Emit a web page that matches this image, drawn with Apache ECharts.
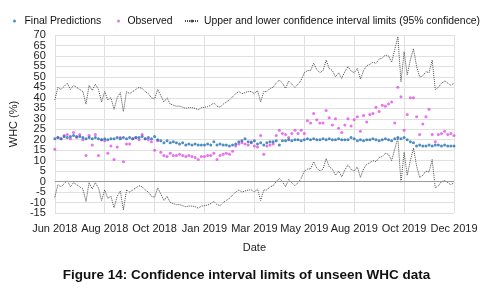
<!DOCTYPE html>
<html>
<head>
<meta charset="utf-8">
<script src="https://cdn.jsdelivr.net/npm/echarts@6/dist/echarts.min.js"></script>
<style>
  html, body { margin: 0; padding: 0; background: #fff; }
  #root { width: 493px; height: 292px; }
</style>
</head>
<body>
<div id="root"></div>
<script>
// tick labels along the date axis (16 samples between two labels)
const tickLabels = ['Jun 2018', 'Aug 2018', 'Oct 2018', 'Jan 2019', 'Mar 2019', 'May 2019', 'Aug 2019', 'Oct 2019', 'Dec 2019'];
const samplesPerTick = 16;
const yMin = -15, yMax = 70, yStep = 5;

const finalPredictions = [
  20.5, 21, 20.5, 21.5, 21, 21.5, 22, 21.5, 21.5, 21, 20.5, 21, 20.5, 21, 20.5, 20,
  20.5, 20, 20.5, 20.5, 21, 20.5, 21, 20.5, 21, 20.5, 21, 21, 21.5, 20.5, 21, 20.5,
  21.5, 20, 19.5, 18.5, 19.5, 18.5, 19, 18.5, 18, 18.5, 17.5, 18, 17.5, 18, 17.5, 17.5,
  17.5, 18, 17.5, 19, 17.5, 18, 17.5, 17.5, 17, 17.5, 18, 19, 19.5, 20.5, 19, 18.5,
  19.5, 18, 18.5, 17.5, 18.5, 19, 19, 19.5, 17.5, 19.5, 19.5, 20, 19.5, 20, 20, 19.5,
  20, 20.5, 20, 20.5, 20, 20, 20.5, 20, 20.5, 20, 20, 20.5, 20, 20, 20, 21,
  20.5, 19.5, 20, 19.5, 20, 20, 20.5, 20, 19.5, 20, 20.5, 20, 19.5, 20.5, 21, 20.5,
  21, 20, 19, 18.5, 17, 17.5, 17, 17, 17.5, 17, 17.5, 17.5, 17, 17.5, 17, 17,
  17
];

const observed = [
  15.5, 21, 20.5, 22, 22.5, 20.5, 23.5, 21, 22.5, 20, 12.5, 22, 17.5, 22.5, 12.5, 20,
  19.5, 13.5, 17, 10.5, 16.5, 21, 9.5, 18, 18, 20.5, 21, 20, 22.5, 20.5, 20, 19,
  15, 19.5, 14, 12.5, 12, 13.5, 12.5, 12.5, 13, 12.5, 12, 12.5, 12, 11.5, 10.5, 12,
  12, 12.5, 12.5, 13.5, 10.5, 12.5, 13, 13.5, 13, 14.5, 17, 18, 18.5, 18, 17.5, 19,
  17, 16.5, 22, 13, 17, 17.5, 18, 22, 24.5, 23, 22.5, 21, 23, 24.5, 23, 24.5,
  23, 29, 28, 32.5, 29.5, 28, 28, 34, 30.5, 27, 30, 25.5, 23.5, 27, 30, 26.5,
  29.5, 31, 24, 31.5, 28.5, 32, 32.5, 35.5, 33.5, 36.5, 36, 37, 38, 28, 45, 40.5,
  24.5, 32, 40, 40, 31, 22.5, 27.5, 31, 34.5, 22.5, 19, 22.5, 23, 24, 22.5, 23,
  22
];

const upperLimit = [
  39, 45, 44, 45.5, 47, 44, 46, 45, 44, 43, 37, 46, 43.5, 46.5, 44, 38,
  43, 39, 40, 34.5, 40, 42.5, 33.5, 43, 42, 43, 44, 45, 44.5, 43, 42, 40,
  39.5, 44, 41, 38, 40, 37, 36.5, 36, 36, 35.5, 35, 35.3, 35.3, 35, 34.3, 35.3,
  35.5, 35.8, 36.5, 37.5, 36, 35.5, 37, 38, 39, 40.5, 42, 43, 42, 42.5, 43, 43,
  42, 43.5, 38, 43, 43, 44.5, 45, 47, 48.5, 47, 44.5, 48, 46.5, 45, 46.5, 48.5,
  52, 53, 53, 56.5, 53.5, 52, 53, 58, 54, 53, 50, 52, 49.3, 52.5, 55, 52.8,
  52, 54, 49, 53, 55.3, 56, 57, 56.5, 58.5, 59, 60.5, 60, 57, 63, 69.2, 47.7,
  62, 51, 58, 63.5, 55, 50, 50.5, 52.5, 52, 58, 44, 45, 47, 48, 47, 46,
  47
];

const lowerLimit = [
  -7.5, -1.5, -2.5, -1, 0.5, -2.5, -0.5, -1.5, -2.5, -3.5, -9.5, -0.5, -3.5, -0.5, -3, -9,
  -4, -8, -7, -12.5, -7, -4.5, -13.5, -4, -5, -4, -3, -2, -2.5, -4, -5, -7,
  -7.5, -3, -6, -9, -7, -10, -10.5, -11, -11, -11.5, -12, -11.7, -11.7, -12, -12.7, -11.7,
  -11.5, -11.2, -10.5, -9.5, -11, -11.5, -10, -9, -8, -6.5, -5, -4, -5, -4.5, -4, -4,
  -5, -3.5, -9, -4, -4, -2.5, -2, 0, 1.5, 0, -2.5, 1, -0.5, -2, -0.5, 1.5,
  5, 6, 6, 9.5, 6.5, 5, 6, 11, 7, 6, 3, 5, 2.3, 5.5, 8, 5.8,
  5, 7, 2, 6, 8.3, 9, 10, 9.5, 11.5, 12, 13.5, 13, 10, 15.5, 21, -0.5,
  14, 3, 10, 16, 7.5, 2, 3, 5, 4.5, 10.5, -3, -2, 0, 0.5, -0.5, -1.5,
  -0.5
];

const limitName = 'Upper and lower confidence interval limits (95% confidence)';
const categories = finalPredictions.map((v, i) => String(i));
const font = 'Liberation Sans';
const legendText = { fontSize: 10.4, color: '#111', fontFamily: font };
const yLabelStyle = { margin: 9, fontSize: 11, color: '#222', hideOverlap: false };

const chart = echarts.init(document.getElementById('root'));

const dotted = { color: '#4a4a4a', width: 1, type: [1, 1] };

const option = {
  animation: false,
  textStyle: { fontFamily: font },
  title: {
    text: 'Figure 14: Confidence interval limits of unseen WHC data',
    left: 'center',
    top: 263,
    textStyle: { fontFamily: font, fontSize: 13.5, fontWeight: 'bold', color: '#111' }
  },
  legend: [
    {
      data: [{ name: 'Final Predictions', icon: 'circle' }],
      left: 8, top: 11,
      itemWidth: 10, itemHeight: 3,
      textStyle: legendText
    },
    {
      data: [{ name: 'Observed', icon: 'circle' }],
      left: 112, top: 11,
      itemWidth: 8, itemHeight: 3,
      textStyle: legendText
    },
    {
      data: [{ name: limitName }],
      left: 179, top: 11,
      itemWidth: 14, itemHeight: 4,
      textStyle: legendText
    }
  ],
  grid: { left: 48, right: 39, top: 35, bottom: 79 },
  xAxis: {
    type: 'category',
    data: categories,
    boundaryGap: false,
    name: 'Date',
    nameLocation: 'middle',
    nameGap: 29,
    nameTextStyle: { fontSize: 11, color: '#222' },
    axisLine: { show: false },
    axisTick: { show: false },
    axisLabel: {
      interval: samplesPerTick - 1,
      margin: 10,
      fontSize: 11,
      color: '#222',
      showMinLabel: true,
      showMaxLabel: true,
      formatter: (v, idx) => tickLabels[Math.round(idx / samplesPerTick)]
    },
    splitLine: { show: true, interval: samplesPerTick - 1, lineStyle: { color: '#e0e0e0' } }
  },
  yAxis: [
    {
      type: 'value',
      min: yMin, max: yMax, interval: yStep,
      name: 'WHC (%)',
      nameLocation: 'middle',
      nameGap: 33,
      nameTextStyle: { fontSize: 11, color: '#222' },
      axisLine: { show: false },
      axisTick: { show: false },
      axisLabel: Object.assign({ showMinLabel: false, showMaxLabel: false }, yLabelStyle),
      splitLine: { lineStyle: { color: '#e0e0e0' } }
    },
    {
      // second copy of the same scale, only to print the end labels
      type: 'value',
      position: 'left',
      min: yMin, max: yMax, interval: yStep,
      axisLine: { show: false },
      axisTick: { show: false },
      splitLine: { show: false },
      axisLabel: Object.assign({
        showMinLabel: true, showMaxLabel: true,
        formatter: v => (v === yMin || v === yMax) ? String(v) : ''
      }, yLabelStyle)
    }
  ],
  series: [
    {
      name: limitName,
      type: 'line',
      data: upperLimit,
      symbol: 'none',
      lineStyle: dotted,
      itemStyle: { color: '#4a4a4a' },
      markLine: {
        silent: true,
        symbol: 'none',
        label: { show: false },
        lineStyle: { color: '#9a9a9a', width: 1, type: 'solid' },
        data: [{ yAxis: 0 }]
      },
      z: 3
    },
    {
      name: limitName,
      type: 'line',
      data: lowerLimit,
      symbol: 'none',
      lineStyle: dotted,
      itemStyle: { color: '#4a4a4a' },
      z: 3
    },
    {
      name: 'Observed',
      type: 'scatter',
      data: observed,
      symbol: 'circle',
      symbolSize: 3,
      itemStyle: { color: '#e54ee8' },
      z: 4
    },
    {
      name: 'Final Predictions',
      type: 'scatter',
      data: finalPredictions,
      symbol: 'circle',
      symbolSize: 3,
      itemStyle: { color: '#2470b3' },
      z: 5
    }
  ]
};

chart.setOption(option);
</script>
</body>
</html>
